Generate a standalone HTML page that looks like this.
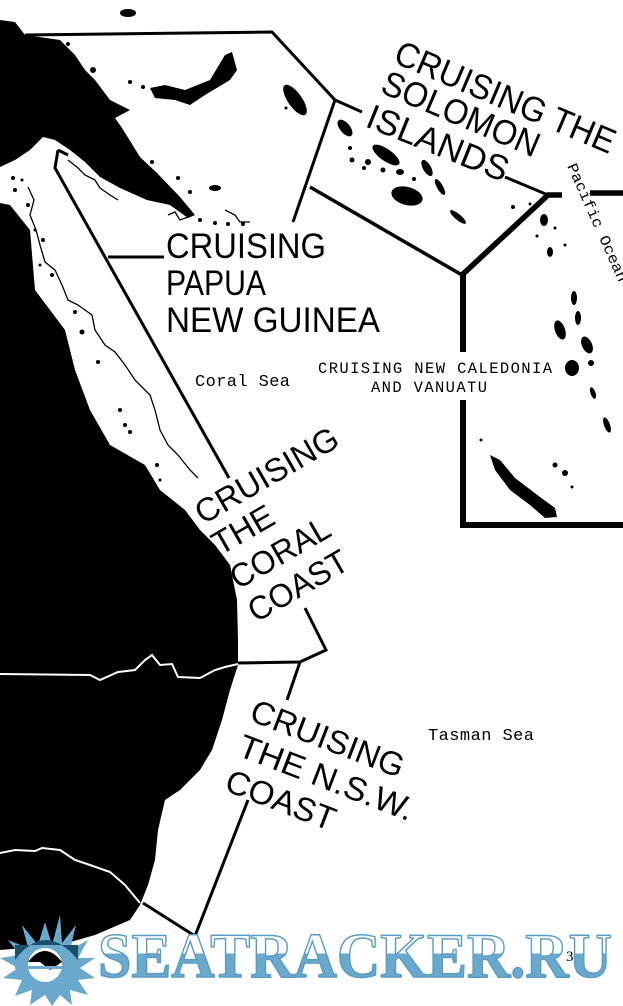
<!DOCTYPE html>
<html><head><meta charset="utf-8"><style>
html,body{margin:0;padding:0;background:#fff}
svg{display:block}
.s{font-family:"Liberation Sans",sans-serif;fill:#000}
.m{font-family:"Liberation Mono",monospace;fill:#000}
</style></head><body>
<svg width="623" height="1006" viewBox="0 0 623 1006" xmlns="http://www.w3.org/2000/svg">
<defs>
<linearGradient id="lg" gradientUnits="userSpaceOnUse" x1="0" y1="930" x2="0" y2="977">
<stop offset="0" stop-color="#fff"/><stop offset="0.5" stop-color="#fff"/><stop offset="0.5" stop-color="#6aa9cc"/><stop offset="1" stop-color="#6aa9cc"/>
</linearGradient>
</defs>
<rect width="623" height="1006" fill="#fff"/>
<path d="M0,20 L15,22 L25,35 L60,40 L75,55 L85,70 L95,80 L110,100 L130,110 L115,118 L122,128 L140,157 L157,173 L180,197 L195,215 L188,218 L170,205 L147,200 L120,188 L100,177 L85,162 L70,150 L55,140 L43,137 L30,150 L15,160 L0,167 Z" fill="#000"/>
<path d="M0,203 L10,205 L30,230 L35,290 L65,330 L75,370 L90,410 L110,445 L145,465 L160,490 L185,510 L200,530 L215,545 L230,565 L237,600 L238,640 L238,665 L230,690 L222,720 L212,750 L200,770 L180,790 L165,800 L158,830 L155,860 L148,885 L140,905 L130,920 L95,935 L60,945 L0,950 Z" fill="#000"/>
<path d="M0,674 L90,675 L100,680 L118,672 L135,670 L145,660 L152,655 L160,665 L172,664 L178,677 L200,678 L215,670 L225,667 L238,664" fill="none" stroke="#fff" stroke-width="2"/>
<path d="M0,853 L15,850 L35,851 L42,848 L60,850 L75,860 L90,865 L110,872 L125,885 L140,903" fill="none" stroke="#fff" stroke-width="2"/>
<path d="M28,187 L34,200 L30,215 L36,230 L40,245 L45,262 L55,270 L62,285 L68,300 L78,305 L92,315 L95,330 L105,345 L115,352 L125,365 L135,380 L150,395 L155,410 L160,430 L168,445 L178,455 L190,470 L198,478" fill="none" stroke="#000" stroke-width="1.3"/>
<path d="M68,160 L78,168 L85,175 L95,180 L100,188 L110,195 L118,200" fill="none" stroke="#000" stroke-width="1.3"/>
<path d="M168,215 L175,212 L180,220 L188,217" fill="none" stroke="#000" stroke-width="1.3"/>
<path d="M225,210 L235,215 L240,222 L250,222" fill="none" stroke="#000" stroke-width="1.3"/>
<g fill="#000">
<circle cx="13" cy="178" r="2"/><circle cx="22" cy="180" r="1.5"/><circle cx="15" cy="190" r="2"/><circle cx="28" cy="205" r="2"/>
<circle cx="35" cy="230" r="1.5"/><circle cx="43" cy="240" r="2"/><circle cx="52" cy="275" r="2"/><circle cx="40" cy="265" r="1.5"/>
<circle cx="75" cy="312" r="2"/><circle cx="82" cy="332" r="2.5"/><circle cx="98" cy="362" r="2"/><circle cx="120" cy="410" r="2"/><circle cx="125" cy="425" r="2"/><circle cx="130" cy="432" r="2"/><circle cx="157" cy="465" r="2"/><circle cx="160" cy="480" r="1.5"/>
<ellipse cx="128" cy="13" rx="8" ry="4"/><circle cx="68" cy="44" r="2"/><circle cx="93" cy="70" r="3"/><circle cx="130" cy="82" r="2"/><circle cx="143" cy="87" r="2"/><circle cx="152" cy="162" r="2"/>
<circle cx="178" cy="178" r="2"/><circle cx="190" cy="192" r="2"/><ellipse cx="215" cy="188" rx="6" ry="3"/><circle cx="200" cy="220" r="2"/><circle cx="215" cy="223" r="2"/><circle cx="228" cy="224" r="2"/><circle cx="243" cy="224" r="2"/>
<path d="M150,88 L165,85 L185,90 L210,80 L225,55 L232,52 L237,70 L230,80 L205,95 L190,105 L175,100 L155,98 Z"/>
<ellipse cx="295" cy="100" rx="7" ry="18" transform="rotate(-35 295 100)"/>
<ellipse cx="345" cy="128" rx="5" ry="10" transform="rotate(-40 345 128)"/>
<ellipse cx="386" cy="155" rx="6" ry="16" transform="rotate(-55 386 155)"/>
<ellipse cx="427" cy="168" rx="4" ry="9" transform="rotate(-30 427 168)"/>
<ellipse cx="407" cy="196" rx="16" ry="9" transform="rotate(15 407 196)"/>
<ellipse cx="440" cy="187" rx="3" ry="9" transform="rotate(-30 440 187)"/>
<ellipse cx="458" cy="217" rx="3" ry="10" transform="rotate(-50 458 217)"/>
<circle cx="352" cy="160" r="2.5"/><circle cx="350" cy="148" r="2"/><circle cx="368" cy="162" r="3"/><circle cx="364" cy="168" r="2"/><circle cx="383" cy="170" r="2.5"/><ellipse cx="400" cy="172" rx="4" ry="3"/><circle cx="414" cy="179" r="2"/>
<circle cx="513" cy="207" r="2"/><circle cx="530" cy="204" r="1.5"/><circle cx="286" cy="108" r="1.5"/>
<ellipse cx="544" cy="220" rx="4" ry="6"/><circle cx="555" cy="228" r="1.5"/><circle cx="537" cy="236" r="1.5"/><circle cx="565" cy="245" r="1.5"/><ellipse cx="550" cy="252" rx="3" ry="5"/>
<ellipse cx="574" cy="298" rx="3" ry="7"/><ellipse cx="578" cy="318" rx="3" ry="7"/><ellipse cx="560" cy="330" rx="5" ry="10" transform="rotate(-20 560 330)"/>
<ellipse cx="587" cy="345" rx="5" ry="9" transform="rotate(-25 587 345)"/><ellipse cx="572" cy="368" rx="7" ry="8"/><circle cx="591" cy="363" r="3"/>
<ellipse cx="593" cy="393" rx="2.5" ry="6" transform="rotate(-20 593 393)"/><ellipse cx="607" cy="425" rx="3" ry="8" transform="rotate(-20 607 425)"/>
<path d="M490,455 L500,460 L515,478 L540,497 L555,508 L557,517 L545,518 L530,505 L510,490 L495,470 Z"/>
<circle cx="555" cy="465" r="2.5"/><circle cx="565" cy="473" r="3"/><circle cx="572" cy="487" r="1.5"/><circle cx="481" cy="440" r="1.5"/>
</g>
<g fill="none" stroke="#000" stroke-linejoin="miter">
<path d="M25,35 L272,32 L335,100 L362,112" stroke-width="3"/>
<path d="M335,100 L293,222" stroke-width="3"/>
<path d="M310,187 L462,275" stroke-width="3.5"/>
<path d="M505,177 L548,195" stroke-width="3"/>
<path d="M462,275 L548,195 L562,195" stroke-width="5.5"/>
<path d="M590,193 L623,193" stroke-width="5.5"/>
<path d="M463,275 L463,352" stroke-width="6"/>
<path d="M463,400 L463,525 L623,525" stroke-width="6"/>
<path d="M58,150 L68,155 M58,150 L55,168 L229,478" stroke-width="3"/>
<path d="M108,257 L164,257" stroke-width="3"/>
<path d="M305,608 L326,650 L300,662 L238,663" stroke-width="3"/>
<path d="M300,662 L287,700" stroke-width="3"/>
<path d="M248,800 L195,936 L143,903" stroke-width="3"/>
</g>
<text class="s" x="166" y="258" font-size="35" textLength="160" lengthAdjust="spacingAndGlyphs">CRUISING</text>
<text class="s" x="166" y="295" font-size="35" textLength="100" lengthAdjust="spacingAndGlyphs">PAPUA</text>
<text class="s" x="166" y="332" font-size="35" textLength="214" lengthAdjust="spacingAndGlyphs">NEW GUINEA</text>
<text class="s" font-size="35" transform="translate(392,62) rotate(23)" textLength="236" lengthAdjust="spacingAndGlyphs">CRUISING THE</text>
<text class="s" font-size="35" transform="translate(379,92) rotate(23)" textLength="168" lengthAdjust="spacingAndGlyphs">SOLOMON</text>
<text class="s" font-size="35" transform="translate(364,126) rotate(22)" textLength="150" lengthAdjust="spacingAndGlyphs">ISLANDS</text>
<text class="s" font-size="33" transform="translate(203,525) rotate(-30)" textLength="160" lengthAdjust="spacingAndGlyphs">CRUISING</text>
<text class="s" font-size="33" transform="translate(220,556) rotate(-30)" textLength="66" lengthAdjust="spacingAndGlyphs">THE</text>
<text class="s" font-size="33" transform="translate(238,590) rotate(-30)" textLength="110" lengthAdjust="spacingAndGlyphs">CORAL</text>
<text class="s" font-size="33" transform="translate(256,623) rotate(-30)" textLength="110" lengthAdjust="spacingAndGlyphs">COAST</text>
<text class="s" font-size="33" transform="translate(248,720) rotate(21)" textLength="162" lengthAdjust="spacingAndGlyphs">CRUISING</text>
<text class="s" font-size="33" transform="translate(236,755) rotate(21)" textLength="185" lengthAdjust="spacingAndGlyphs">THE N.S.W.</text>
<text class="s" font-size="33" transform="translate(223,790) rotate(21)" textLength="115" lengthAdjust="spacingAndGlyphs">COAST</text>
<text class="m" x="195" y="386" font-size="17" textLength="95">Coral Sea</text>
<text class="m" x="318" y="373" font-size="15.5" textLength="234">CRUISING NEW CALEDONIA</text>
<text class="m" x="371" y="392" font-size="15.5" textLength="116">AND VANUATU</text>
<text class="m" x="428" y="740" font-size="17" textLength="106">Tasman Sea</text>
<text class="m" font-size="15" transform="translate(567,166) rotate(66)" textLength="128" lengthAdjust="spacingAndGlyphs">Pacific Ocean</text>
<g fill="#6aa9cc">
<polygon points="45,922 52,945 60,915 62,943 76,925 70,950 88,940 78,958 95,958 80,968 95,978 78,980 88,995 70,990 72,1005 60,995 52,1006 45,995 30,1005 32,990 15,996 22,980 3,978 18,968 0,958 20,955 8,940 28,948 22,925 38,945"/>
</g>
<path d="M15,960 Q45,920 78,960 L78,945 L15,945 Z" fill="#1c4f6a"/>
<circle cx="45" cy="965" r="17" fill="#fff"/>
<path d="M28,962 Q45,940 62,962 L50,970 L40,962 Z" fill="#000"/>
<rect x="15" y="966" width="62" height="3" fill="#6aa9cc"/>
<text x="98" y="977" font-family="'Liberation Serif',serif" font-weight="bold" font-size="64" fill="url(#lg)" stroke="#5a9dc4" stroke-width="1.5" textLength="514" lengthAdjust="spacingAndGlyphs">SEATRACKER.RU</text>
<text x="566" y="961" font-family="'Liberation Serif',serif" font-size="15" fill="#000">3</text>
</svg>
</body></html>
